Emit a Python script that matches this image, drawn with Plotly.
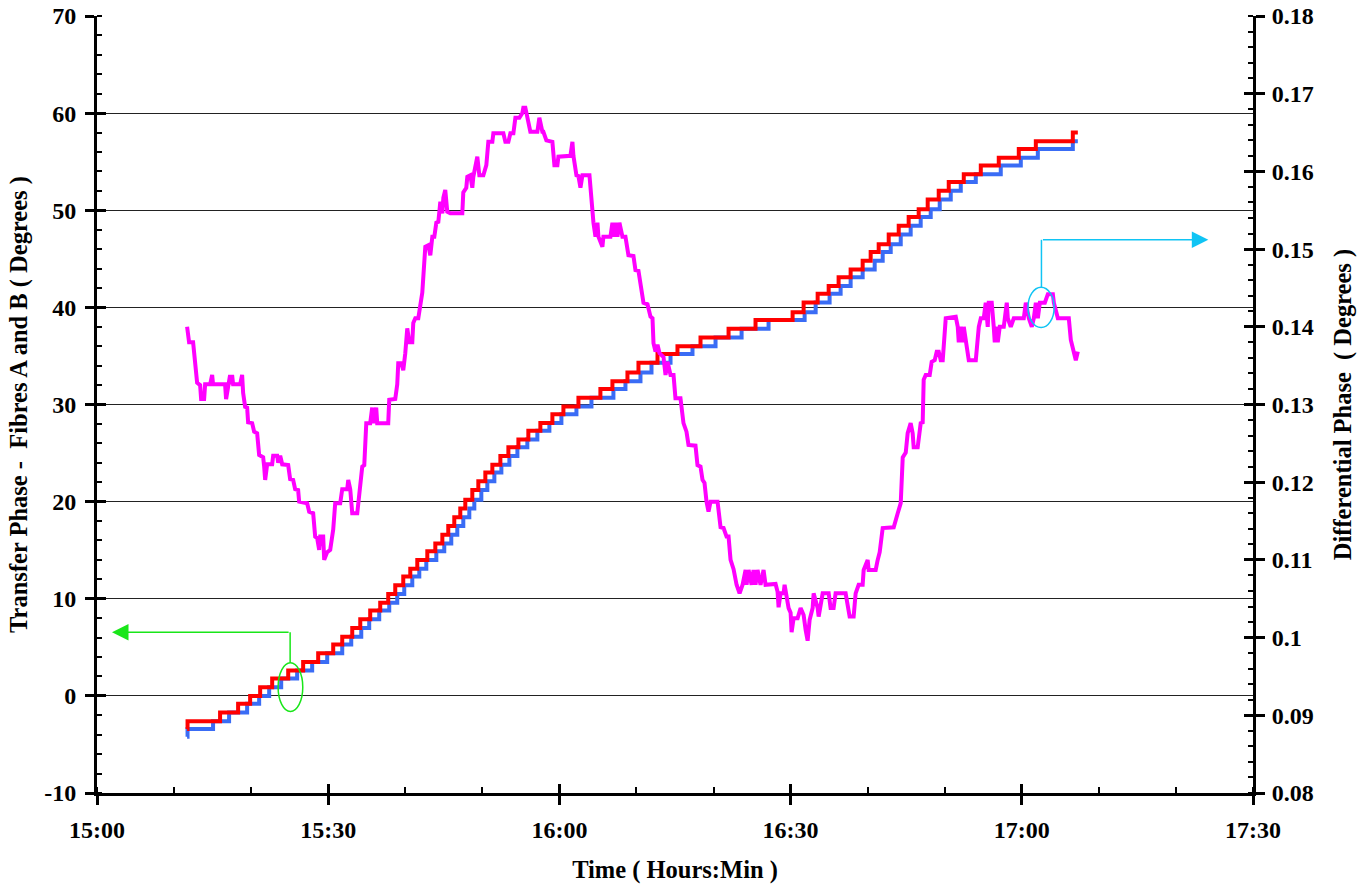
import pandas as pd
import plotly.graph_objects as go

# ---------------- data (time in minutes after 15:00) ----------------
red_min = [11.69, 11.75, 15.97, 18.31, 19.87, 21.17, 22.73, 24.81, 26.75, 28.70, 30.65,
           31.82, 33.12, 34.16, 35.45, 36.75, 37.79, 38.70, 39.74, 40.65, 41.56, 42.86,
           43.90, 44.81, 45.58, 46.36, 47.14, 47.79, 48.70, 49.48, 50.39, 51.30, 52.34,
           53.38, 54.68, 55.97, 57.53, 59.09, 60.52, 62.47, 65.32, 66.88, 68.83, 70.26,
           72.73, 75.32, 78.31, 81.95, 85.45, 90.26, 91.69, 93.51, 94.94, 96.23, 97.79,
           99.35, 100.39, 101.43, 102.73, 104.03, 105.32, 106.62, 107.79, 109.22, 110.52,
           112.47, 114.68, 117.01, 119.61, 121.82, 126.62, 127.27]
red_val = [-3.4, -2.6, -1.7, -0.8, 0.0, 0.9, 1.8, 2.6, 3.5, 4.4, 5.3,
           6.1, 7.0, 7.9, 8.8, 9.6, 10.5, 11.4, 12.3, 13.1, 14.0, 14.9,
           15.7, 16.6, 17.5, 18.4, 19.3, 20.2, 21.2, 22.1, 23.0, 23.8, 24.7,
           25.6, 26.4, 27.3, 28.1, 29.0, 29.8, 30.7, 31.6, 32.4, 33.3, 34.3,
           35.2, 36.0, 36.9, 37.8, 38.7, 39.5, 40.5, 41.4, 42.2, 43.1, 43.9,
           44.8, 45.7, 46.5, 47.5, 48.4, 49.3, 50.1, 51.1, 52.0, 52.9,
           53.7, 54.6, 55.4, 56.3, 57.1, 58.0, 58.0]

blue_min = [11.69, 11.75, 15.06, 17.14, 19.48, 21.04, 22.34, 23.90, 25.97, 27.92, 29.87,
            31.82, 32.99, 34.29, 35.32, 36.62, 37.92, 38.96, 39.87, 40.91, 41.82, 42.73,
            44.03, 45.06, 45.97, 46.75, 47.53, 48.31, 48.96, 49.87, 50.65, 51.56, 52.47,
            53.51, 54.55, 55.84, 57.14, 58.70, 60.26, 62.21, 64.16, 67.01, 68.57, 70.52,
            71.95, 74.42, 77.27, 80.26, 83.64, 87.14, 91.82, 93.25, 95.06, 96.49, 97.79,
            99.35, 100.91, 101.95, 102.99, 104.29, 105.58, 106.88, 108.18, 109.35, 110.78,
            112.08, 114.03, 117.27, 119.87, 122.08, 126.62, 127.27]
blue_val = [-4.2, -3.4, -2.6, -1.7, -0.8, 0.0, 0.9, 1.8, 2.6, 3.5, 4.4,
            5.3, 6.1, 7.0, 7.9, 8.8, 9.6, 10.5, 11.4, 12.3, 13.1, 14.0,
            14.9, 15.7, 16.6, 17.5, 18.4, 19.3, 20.2, 21.2, 22.1, 23.0, 23.8,
            24.7, 25.6, 26.4, 27.3, 28.1, 29.0, 29.8, 30.7, 31.6, 32.4, 33.3,
            34.3, 35.2, 36.0, 36.9, 37.8, 38.7, 39.5, 40.5, 41.4, 42.2, 43.1,
            43.9, 44.8, 45.7, 46.5, 47.5, 48.4, 49.3, 50.1, 51.1, 52.0,
            52.9, 53.7, 54.6, 55.4, 56.3, 57.1, 57.1]

diff_min = [11.69, 11.95, 12.47, 12.73, 12.99, 13.38, 13.51, 13.90, 14.03, 14.68, 14.94, 15.06,
            16.62, 16.75, 17.01, 17.27, 17.40, 17.53, 17.66, 18.57, 18.83, 18.96, 19.22, 19.48,
            19.61, 20.13, 20.39, 20.78, 21.04, 21.56, 21.69, 21.82, 22.08, 22.73, 22.86, 23.38,
            23.51, 23.77, 24.03, 24.81, 25.06, 25.45, 25.71, 26.10, 26.23, 27.27, 27.53, 28.05,
            28.31, 28.57, 28.83, 28.96, 29.35, 29.48, 29.87, 30.26, 30.65, 30.91, 31.56, 31.82,
            32.47, 32.60, 32.86, 33.12, 33.77, 34.03, 34.42, 34.68, 34.94, 35.45, 35.71, 35.84,
            36.23, 36.36, 37.79, 37.92, 38.70, 38.96, 39.09, 39.48, 39.74, 40.00, 40.26, 40.52,
            40.91, 41.04, 41.30, 41.69, 42.21, 42.60, 42.99, 43.25, 43.51, 43.77, 44.03, 44.29,
            44.55, 44.81, 44.94, 45.19, 45.45, 45.84, 47.40, 47.53, 47.92, 48.05, 48.44, 48.70,
            48.83, 49.35, 49.48, 49.61, 50.13, 50.52, 50.78, 51.30, 51.43, 52.73, 52.99, 53.38,
            53.64, 54.03, 54.29, 54.81, 55.19, 55.32, 55.58, 55.84, 55.97, 56.23, 57.14, 57.40,
            57.79, 57.92, 58.31, 59.09, 59.35, 59.74, 59.87, 61.43, 61.69, 61.82, 62.21, 62.47,
            62.73, 62.99, 63.90, 64.16, 64.42, 64.68, 64.94, 65.06, 65.58, 65.71, 66.62, 66.88,
            67.01, 67.27, 67.53, 67.79, 68.18, 68.57, 68.96, 69.61, 69.87, 70.26, 70.65, 70.91,
            71.43, 71.82, 72.08, 72.21, 72.47, 72.73, 72.99, 73.51, 73.77, 74.03, 74.42, 74.81,
            75.06, 75.71, 76.10, 76.49, 76.75, 77.66, 77.92, 78.31, 78.57, 78.83, 79.09, 79.35,
            79.61, 80.52, 80.91, 81.30, 81.69, 81.95, 82.21, 82.60, 82.99, 83.38, 83.77, 84.16,
            84.29, 84.55, 84.94, 85.19, 85.45, 85.71, 86.10, 86.49, 86.75, 88.05, 88.31, 88.44,
            88.70, 89.09, 89.22, 89.48, 89.74, 90.00, 90.13, 90.39, 90.91, 91.30, 91.69, 91.95,
            92.21, 92.47, 92.86, 92.99, 93.51, 93.64, 93.90, 94.16, 94.94, 95.19, 95.58, 95.84,
            97.14, 97.40, 97.66, 98.18, 98.44, 98.83, 99.35, 99.48, 100.00, 100.13, 101.04, 101.30,
            101.56, 101.95, 103.38, 103.90, 104.29, 104.55, 104.94, 105.19, 105.58, 105.84, 105.97, 106.49,
            106.88, 107.14, 107.27, 107.53, 108.05, 108.31, 108.70, 108.96, 109.22, 109.48, 109.74, 110.13,
            111.43, 111.69, 111.82, 112.08, 112.34, 112.47, 112.73, 113.12, 114.03, 114.42, 114.68, 115.06,
            115.32, 115.58, 115.71, 116.10, 116.36, 116.49, 116.62, 116.88, 117.14, 117.66, 118.05, 118.18,
            118.57, 118.96, 120.26, 120.52, 120.91, 121.30, 121.56, 121.82, 122.08, 122.34, 122.99, 123.38,
            124.03, 124.16, 124.68, 126.10, 126.36, 126.75, 127.01, 127.27]
diff_val = [0.1400, 0.1380, 0.1380, 0.1353, 0.1328, 0.1325, 0.1307, 0.1307, 0.1326, 0.1326, 0.1338, 0.1326,
            0.1326, 0.1307, 0.1326, 0.1338, 0.1326, 0.1338, 0.1326, 0.1326, 0.1338, 0.1315, 0.1297, 0.1296,
            0.1277, 0.1276, 0.1265, 0.1263, 0.1235, 0.1232, 0.1220, 0.1203, 0.1223, 0.1223, 0.1234, 0.1234,
            0.1225, 0.1234, 0.1223, 0.1222, 0.1204, 0.1203, 0.1191, 0.1190, 0.1175, 0.1173, 0.1162, 0.1160,
            0.1130, 0.1128, 0.1113, 0.1130, 0.1130, 0.1100, 0.1110, 0.1113, 0.1139, 0.1173, 0.1173, 0.1191,
            0.1191, 0.1203, 0.1191, 0.1160, 0.1160, 0.1190, 0.1220, 0.1222, 0.1276, 0.1276, 0.1296, 0.1276,
            0.1296, 0.1276, 0.1276, 0.1306, 0.1307, 0.1326, 0.1353, 0.1353, 0.1344, 0.1366, 0.1398, 0.1380,
            0.1380, 0.1405, 0.1411, 0.1411, 0.1444, 0.1503, 0.1505, 0.1492, 0.1516, 0.1516, 0.1534, 0.1535,
            0.1561, 0.1546, 0.1566, 0.1576, 0.1548, 0.1546, 0.1546, 0.1573, 0.1579, 0.1593, 0.1595, 0.1579,
            0.1593, 0.1619, 0.1608, 0.1595, 0.1595, 0.1608, 0.1638, 0.1638, 0.1649, 0.1649, 0.1638, 0.1638,
            0.1649, 0.1649, 0.1669, 0.1669, 0.1675, 0.1682, 0.1682, 0.1670, 0.1669, 0.1651, 0.1651, 0.1669,
            0.1651, 0.1651, 0.1640, 0.1638, 0.1608, 0.1608, 0.1619, 0.1620, 0.1638, 0.1620, 0.1595, 0.1594,
            0.1579, 0.1595, 0.1595, 0.1563, 0.1534, 0.1516, 0.1534, 0.1516, 0.1503, 0.1516, 0.1516, 0.1534,
            0.1516, 0.1534, 0.1516, 0.1534, 0.1516, 0.1516, 0.1492, 0.1491, 0.1473, 0.1472, 0.1444, 0.1431,
            0.1429, 0.1413, 0.1411, 0.1379, 0.1368, 0.1377, 0.1366, 0.1361, 0.1338, 0.1355, 0.1338, 0.1338,
            0.1308, 0.1308, 0.1276, 0.1265, 0.1248, 0.1247, 0.1222, 0.1220, 0.1203, 0.1199, 0.1175, 0.1162,
            0.1175, 0.1175, 0.1142, 0.1141, 0.1130, 0.1130, 0.1100, 0.1088, 0.1068, 0.1057, 0.1068, 0.1087,
            0.1068, 0.1087, 0.1068, 0.1087, 0.1068, 0.1087, 0.1068, 0.1087, 0.1068, 0.1069, 0.1059, 0.1039,
            0.1057, 0.1057, 0.1068, 0.1055, 0.1038, 0.1032, 0.1007, 0.1025, 0.1025, 0.1038, 0.1029, 0.1010,
            0.0996, 0.1023, 0.1038, 0.1057, 0.1038, 0.1027, 0.1046, 0.1057, 0.1057, 0.1038, 0.1038, 0.1057,
            0.1057, 0.1038, 0.1027, 0.1027, 0.1057, 0.1068, 0.1068, 0.1087, 0.1100, 0.1087, 0.1087, 0.1100,
            0.1110, 0.1141, 0.1142, 0.1160, 0.1173, 0.1232, 0.1238, 0.1263, 0.1276, 0.1263, 0.1245, 0.1245,
            0.1276, 0.1277, 0.1332, 0.1338, 0.1338, 0.1355, 0.1357, 0.1368, 0.1368, 0.1357, 0.1357, 0.1411,
            0.1413, 0.1400, 0.1380, 0.1400, 0.1380, 0.1400, 0.1380, 0.1357, 0.1357, 0.1400, 0.1411, 0.1411,
            0.1431, 0.1400, 0.1431, 0.1431, 0.1400, 0.1380, 0.1400, 0.1380, 0.1400, 0.1400, 0.1431, 0.1411,
            0.1400, 0.1411, 0.1411, 0.1431, 0.1411, 0.1400, 0.1411, 0.1431, 0.1411, 0.1431, 0.1431, 0.1442,
            0.1442, 0.1431, 0.1411, 0.1411, 0.1383, 0.1370, 0.1357, 0.1368]

left_ticks = [-10, 0, 10, 20, 30, 40, 50, 60, 70]
left_labels = ["-10", "0", "10", "20", "30", "40", "50", "60", "70"]
right_ticks = [0.08, 0.09, 0.10, 0.11, 0.12, 0.13, 0.14, 0.15, 0.16, 0.17, 0.18]
right_labels = ["0.08", "0.09", "0.1", "0.11", "0.12", "0.13", "0.14", "0.15", "0.16", "0.17", "0.18"]
x_ticks_min = [0, 30, 60, 90, 120, 150]
x_labels = ["15:00", "15:30", "16:00", "16:30", "17:00", "17:30"]

# annotation markers (data units)
green_ell = dict(m0=23.5, m1=26.7, v0=-1.6, v1=3.4)
green_arrow = dict(m_start=25.06, m_tip=1.95, v=6.54)
cyan_ell = dict(m0=120.8, m1=124.2, v0=0.1399, v1=0.1451)
cyan_arrow = dict(m_start=122.55, m_tip=144.2, v=0.1512)

BASE = pd.Timestamp("2000-01-01 15:00:00")


def tm(m):
    return BASE + pd.Timedelta(minutes=m)


def tms(lst):
    return [tm(v) for v in lst]


FONT = "Liberation Serif"
GREEN = "#19E619"
CYAN = "#10C4F4"

fig = go.Figure()
fig.add_trace(go.Scatter(x=tms(blue_min), y=blue_val, mode="lines",
                         line=dict(shape="hv", color="#3A6CF5", width=4), name="Fibre B"))
fig.add_trace(go.Scatter(x=tms(red_min), y=red_val, mode="lines",
                         line=dict(shape="hv", color="#FF0000", width=4), name="Fibre A"))
fig.add_trace(go.Scatter(x=tms(diff_min), y=diff_val, mode="lines", yaxis="y2",
                         line=dict(color="#FF00FF", width=4), name="Differential"))
# helper traces so the overlay tick axes are drawn
fig.add_trace(go.Scatter(x=[tm(0)], y=[None], xaxis="x2", yaxis="y3", mode="lines",
                         showlegend=False, hoverinfo="skip"))
fig.add_trace(go.Scatter(x=[tm(0)], y=[None], xaxis="x", yaxis="y4", mode="lines",
                         showlegend=False, hoverinfo="skip"))

tickfont = dict(family=FONT, size=24, color="black", weight="bold")
titlefont = dict(family=FONT, size=24.5, color="black", weight="bold")
xr = [tm(0), tm(150)]

fig.update_layout(
    width=1367, height=886,
    margin=dict(l=97, r=114, t=16, b=93, autoexpand=False),
    paper_bgcolor="white", plot_bgcolor="white",
    showlegend=False,
    xaxis=dict(type="date", range=xr, tickvals=tms(x_ticks_min), ticktext=x_labels,
               ticks="outside", ticklen=9, tickwidth=3, tickcolor="black",
               minor=dict(tick0=tm(0), dtick=10 * 60 * 1000, ticks="inside", ticklen=6,
                          tickwidth=2, tickcolor="black", showgrid=False),
               showline=True, linewidth=3, linecolor="black", showgrid=False, zeroline=False,
               tickfont=tickfont, ticklabelstandoff=4, automargin=False,
               title=dict(text="Time ( Hours:Min )", font=titlefont, standoff=20)),
    xaxis2=dict(type="date", range=xr, overlaying="x", anchor="y", side="bottom",
                tickvals=tms(x_ticks_min), ticks="inside", ticklen=9, tickwidth=3,
                tickcolor="black", showticklabels=False, showgrid=False, showline=False,
                zeroline=False, automargin=False),
    yaxis=dict(range=[-10, 70], tickvals=left_ticks, ticktext=left_labels,
               ticks="outside", ticklen=9, tickwidth=3, tickcolor="black",
               minor=dict(tick0=0, dtick=2, ticks="inside", ticklen=5, tickwidth=2,
                          tickcolor="black", showgrid=False),
               showline=True, linewidth=3, linecolor="black",
               showgrid=True, gridcolor="#222222", gridwidth=1, zeroline=False,
               tickfont=tickfont, ticklabelstandoff=4, automargin=False,
               title=dict(text="Transfer Phase -  Fibres A and B ( Degrees )", font=titlefont,
                          standoff=10)),
    yaxis2=dict(range=[0.08, 0.18], overlaying="y", side="right", anchor="x",
                tickvals=right_ticks, ticktext=right_labels,
                ticks="outside", ticklen=9, tickwidth=3, tickcolor="black",
                minor=dict(tick0=0.08, dtick=0.002, ticks="inside", ticklen=5, tickwidth=2,
                           tickcolor="black", showgrid=False),
                showline=True, linewidth=3, linecolor="black", showgrid=False, zeroline=False,
                tickfont=tickfont, ticklabelstandoff=2, automargin=False,
                title=dict(text="Differential Phase  ( Degrees )", font=titlefont, standoff=22)),
    yaxis3=dict(range=[-10, 70], overlaying="y", side="left", anchor="x",
                tickvals=left_ticks, ticks="inside", ticklen=9, tickwidth=3, tickcolor="black",
                showticklabels=False, showgrid=False, showline=False, zeroline=False,
                automargin=False),
    yaxis4=dict(range=[0.08, 0.18], overlaying="y", side="right", anchor="x",
                tickvals=right_ticks, ticks="inside", ticklen=9, tickwidth=3, tickcolor="black",
                showticklabels=False, showgrid=False, showline=False, zeroline=False,
                automargin=False),
)

# green marker: ellipse, leader and arrow to the left axis
fig.add_shape(type="circle", xref="x", yref="y",
              x0=tm(green_ell["m0"]), x1=tm(green_ell["m1"]),
              y0=green_ell["v0"], y1=green_ell["v1"],
              line=dict(color=GREEN, width=1.5))
fig.add_shape(type="line", xref="x", yref="y",
              x0=tm(green_arrow["m_start"]), x1=tm(green_arrow["m_start"]),
              y0=green_ell["v1"], y1=green_arrow["v"],
              line=dict(color=GREEN, width=1.5))
fig.add_annotation(x=tm(green_arrow["m_tip"]), y=green_arrow["v"], xref="x", yref="y",
                   ax=tm(green_arrow["m_start"]), ay=green_arrow["v"], axref="x", ayref="y",
                   text="", showarrow=True, arrowhead=2, arrowsize=2.2, arrowwidth=1.5,
                   arrowcolor=GREEN)

# cyan marker: ellipse, leader and arrow to the right axis
fig.add_shape(type="circle", xref="x", yref="y2",
              x0=tm(cyan_ell["m0"]), x1=tm(cyan_ell["m1"]),
              y0=cyan_ell["v0"], y1=cyan_ell["v1"],
              line=dict(color=CYAN, width=1.5))
fig.add_shape(type="line", xref="x", yref="y2",
              x0=tm(cyan_arrow["m_start"]), x1=tm(cyan_arrow["m_start"]),
              y0=cyan_ell["v1"], y1=cyan_arrow["v"],
              line=dict(color=CYAN, width=1.5))
fig.add_annotation(x=tm(cyan_arrow["m_tip"]), y=cyan_arrow["v"], xref="x", yref="y2",
                   ax=tm(cyan_arrow["m_start"]), ay=cyan_arrow["v"], axref="x", ayref="y2",
                   text="", showarrow=True, arrowhead=2, arrowsize=2.2, arrowwidth=1.5,
                   arrowcolor=CYAN)

fig.write_html("out.html")
